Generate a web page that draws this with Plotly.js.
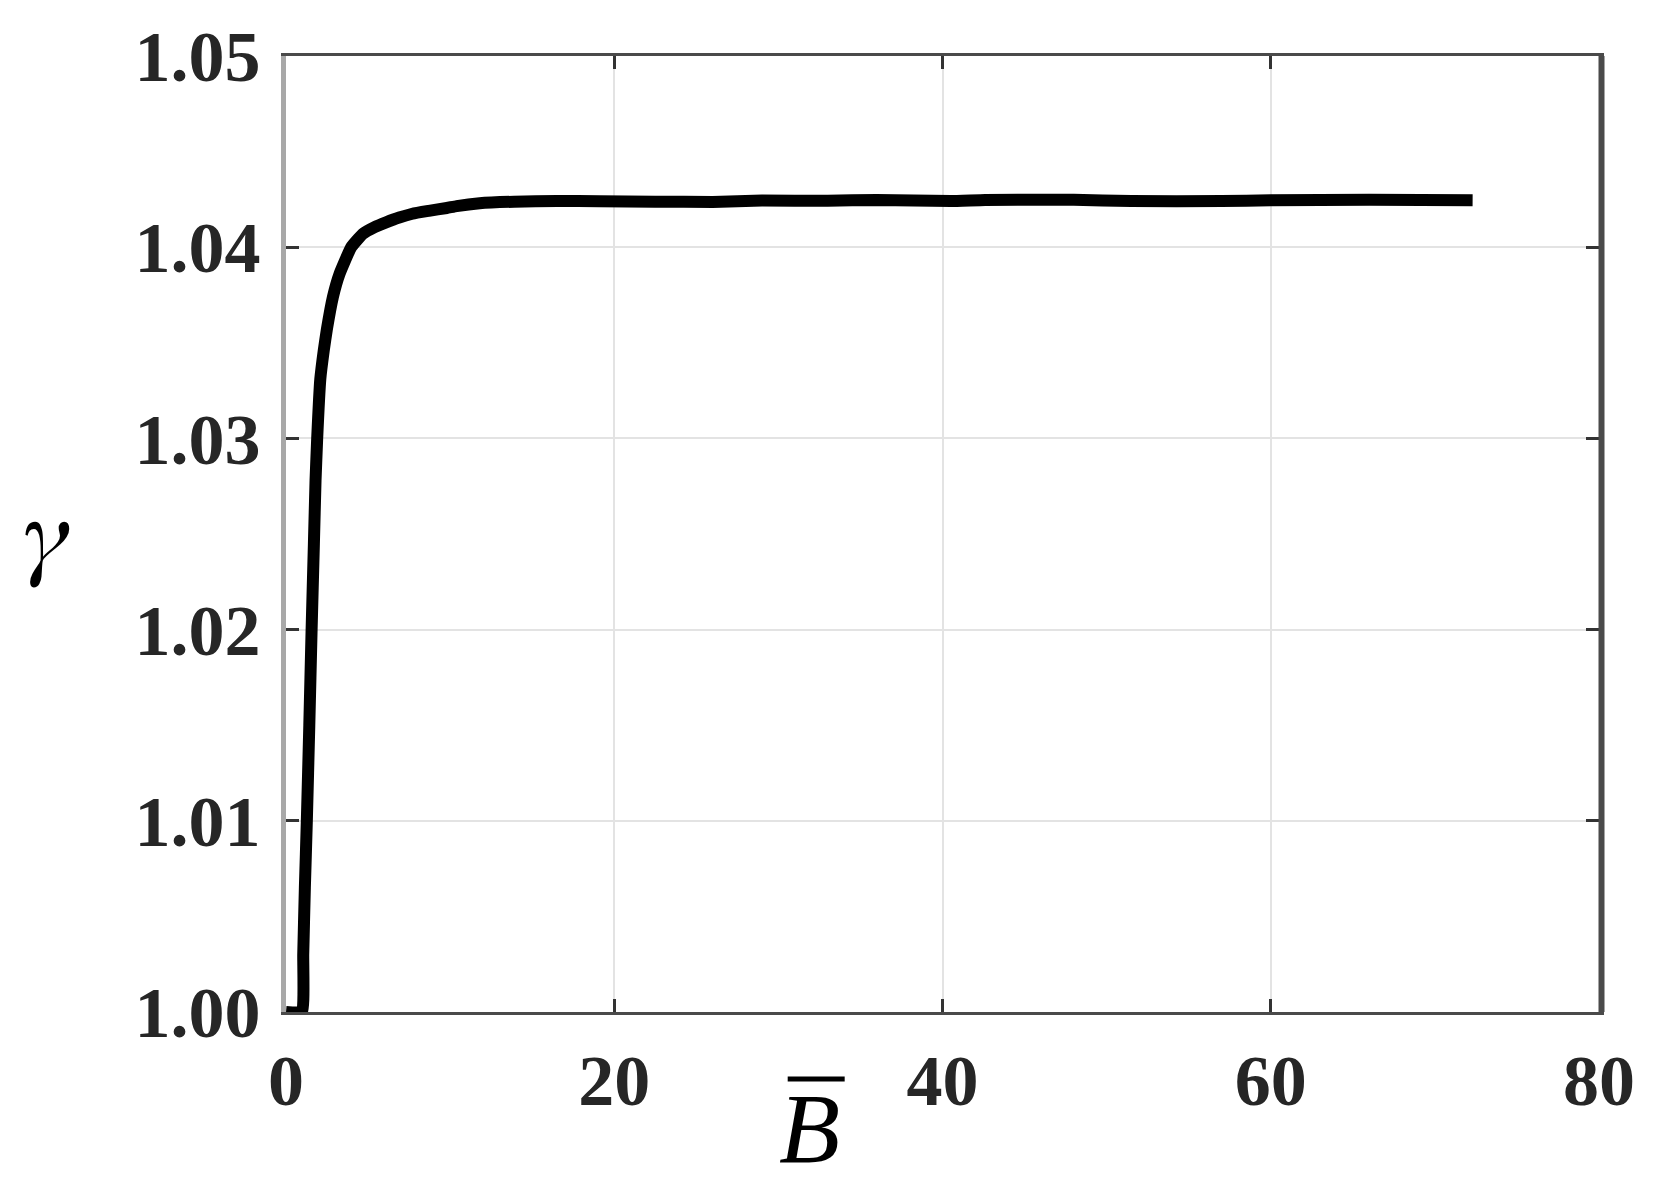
<!DOCTYPE html>
<html>
<head>
<meta charset="utf-8">
<script src="https://cdn.plot.ly/plotly-3.0.1.min.js"></script>
<style>
  html, body { margin: 0; padding: 0; background: #fff; }
  #plot { width: 1653px; height: 1191px; }
</style>
</head>
<body>
<div id="plot"></div>
<script>
/* curve: gamma against B-bar */
var bBar = [0, 0.98, 1.05, 1.15, 1.27, 1.42, 1.56, 1.70, 1.80, 1.90, 2.09, 2.30, 2.49, 2.86, 3.26, 3.97,
            4.68, 5.4, 6.1, 6.9, 7.7, 8.7, 9.8, 10.4, 11.8, 13.9, 16.5, 19.1, 22.5,
            26, 29, 33, 36, 40.5, 42.6, 48, 51.5, 57, 60, 66, 72.3];
var gamma = [1.0000, 1.0000, 1.0030, 1.0065, 1.0100, 1.0150, 1.0200, 1.0245, 1.0278, 1.0300, 1.0331,
             1.0346, 1.0357, 1.0374, 1.0386, 1.0400, 1.0407, 1.04105, 1.0413, 1.04155, 1.04175, 1.0419,
             1.04205, 1.04215, 1.0423, 1.04238, 1.04242, 1.0424, 1.04238,
             1.04237, 1.04244, 1.04243, 1.04247, 1.04241, 1.04247, 1.04248, 1.04241, 1.04241, 1.04246, 1.04248, 1.04245];

var xTicks = [0, 20, 40, 60, 80];
var yTicks = [1.00, 1.01, 1.02, 1.03, 1.04, 1.05];

var serif = 'Liberation Serif';

var trace = {
    x: bBar,
    y: gamma,
    type: 'scatter',
    mode: 'lines',
    line: {color: '#000000', width: 12, shape: 'spline', smoothing: 0.35},
    showlegend: false,
    cliponaxis: false
};

var layout = {
    width: 1653,
    height: 1191,
    margin: {l: 286, r: 54, t: 56, b: 179, pad: 0},
    paper_bgcolor: '#ffffff',
    plot_bgcolor: '#ffffff',
    showlegend: false,
    xaxis: {
        range: [0, 80],
        tickvals: xTicks,
        ticktext: xTicks.map(function (v) { return '<b>' + v + '</b>'; }),
        showgrid: true,
        gridcolor: '#e3e3e3',
        gridwidth: 2,
        zeroline: false,
        showline: true,
        linecolor: '#4a4a4a',
        linewidth: 3,
        mirror: 'ticks',
        ticks: 'inside',
        ticklen: 13,
        tickwidth: 3,
        tickcolor: '#333333',
        ticklabelstandoff: 4,
        tickfont: {family: serif, size: 72, color: '#262626'}
    },
    yaxis: {
        range: [1.00, 1.05],
        tickvals: yTicks,
        ticktext: yTicks.map(function (v) { return '<b>' + v.toFixed(2) + '</b>'; }),
        showgrid: true,
        gridcolor: '#e3e3e3',
        gridwidth: 2,
        zeroline: false,
        showline: true,
        linecolor: '#a8a8a8',
        linewidth: 5,
        mirror: 'ticks',
        ticks: 'inside',
        ticklen: 13,
        tickwidth: 3,
        tickcolor: '#333333',
        ticklabelstandoff: 6,
        tickfont: {family: serif, size: 72, color: '#262626'}
    },
    shapes: [
        /* darker right frame edge, laid over the mirrored grey line */
        {type: 'line', xref: 'paper', yref: 'paper', xsizemode: 'pixel', xanchor: 1,
         x0: 2.5, x1: 2.5, y0: 0, y1: 1,
         line: {color: '#4a4a4a', width: 6}, layer: 'above'},
        /* bar over B */
        {type: 'line', xref: 'paper', yref: 'paper', x0: 0.3821, x1: 0.4255, y0: -0.0701, y1: -0.0701,
         line: {color: '#000000', width: 5}}
    ],
    annotations: [
        {text: '<i>γ</i>', xref: 'paper', yref: 'paper', x: -0.1825, y: 0.497,
         xanchor: 'center', yanchor: 'middle', showarrow: false,
         font: {family: 'FreeSerif', size: 100, color: '#000000'}},
        {text: '<i>B</i>', xref: 'paper', yref: 'paper', x: 0.399, y: -0.122,
         xanchor: 'center', yanchor: 'middle', showarrow: false,
         font: {family: serif, size: 100, color: '#000000'}}
    ]
};

Plotly.newPlot('plot', [trace], layout, {displayModeBar: false, staticPlot: true});
</script>
</body>
</html>
